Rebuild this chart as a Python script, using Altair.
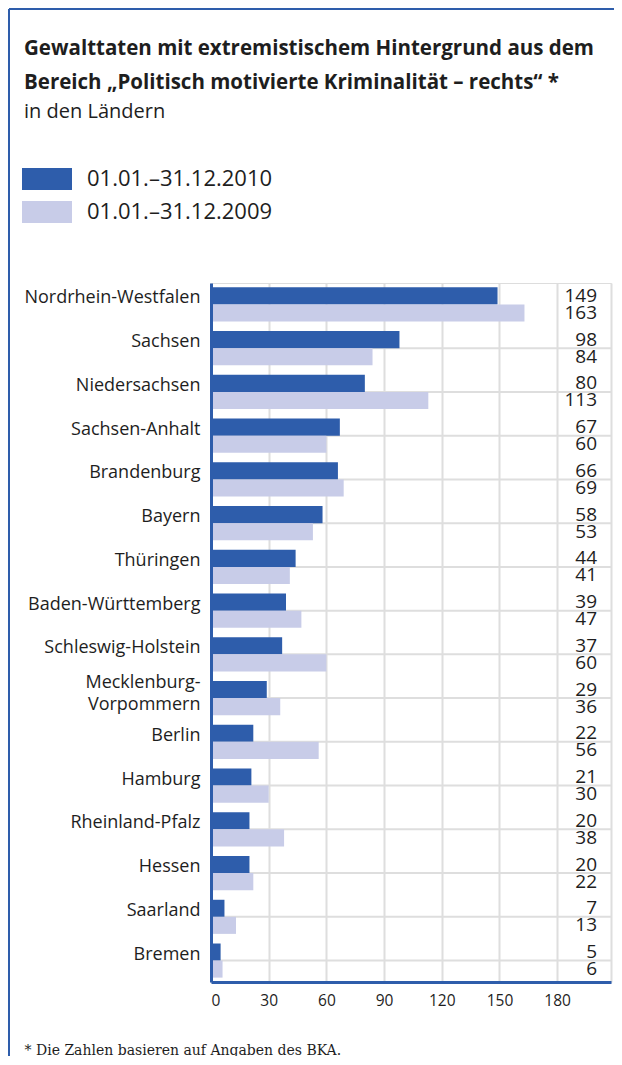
import altair as alt
import pandas as pd

lands = ["Nordrhein-Westfalen", "Sachsen", "Niedersachsen", "Sachsen-Anhalt",
         "Brandenburg", "Bayern", "Thüringen", "Baden-Württemberg",
         "Schleswig-Holstein", "Mecklenburg-Vorpommern", "Berlin", "Hamburg",
         "Rheinland-Pfalz", "Hessen", "Saarland", "Bremen"]
v2010 = [149, 98, 80, 67, 66, 58, 44, 39, 37, 29, 22, 21, 20, 20, 7, 5]
v2009 = [163, 84, 113, 60, 69, 53, 41, 47, 60, 36, 56, 30, 38, 22, 13, 6]
years = ["01.01.–31.12.2010", "01.01.–31.12.2009"]
x_ticks = [0, 30, 60, 90, 120, 150, 180, 208]

title_lines = ["Gewalttaten mit extremistischem Hintergrund aus dem",
               "Bereich „Politisch motivierte Kriminalität – rechts“ *"]
subtitle = "in den Ländern"
footnote = "*  Die Zahlen basieren auf Angaben des BKA."

DARK = "#2e5dab"
LIGHT = "#c8cce8"
GRID = "#dedede"
TXT = "#1e1e1e"
FONT = "Open Sans"

rows = []
for land, a, b in zip(lands, v2010, v2009):
    rows.append({"Land": land, "Jahr": years[0], "Wert": a})
    rows.append({"Land": land, "Jahr": years[1], "Wert": b})
df = pd.DataFrame(rows)
grid_df = pd.DataFrame({"Land": lands[1:]})

W, H = 400, 699
L, T, R, B = 203, 275, 3, 74

y_scale = alt.Scale(domain=lands, paddingInner=0.22, paddingOuter=0.1)
y_axis = alt.Axis(
    title=None, domainColor=DARK, domainWidth=3, ticks=False,
    labelFont=FONT, labelFontSize=18, labelColor=TXT, labelPadding=11,
    labelOffset={"condition": {"test": "datum.value == 'Mecklenburg-Vorpommern'",
                               "value": -15}, "value": -6},
    labelLineHeight=22, zindex=1, labelLimit=250,
    labelExpr="datum.label == 'Mecklenburg-Vorpommern' ? ['Mecklenburg-', 'Vorpommern'] : datum.label",
)
x_scale = alt.Scale(domain=[0, 208], nice=False, zero=True)
x_axis = alt.Axis(
    values=x_ticks, title=footnote, domainColor=DARK, domainWidth=3,
    ticks=False, grid=True, gridColor=GRID, gridWidth=2,
    labelFont=FONT, labelFontSize=15.5, labelColor=TXT, labelPadding=11,
    labelExpr="datum.value > 200 ? '' : datum.label",
    titleFont="DejaVu Serif", titleFontSize=14, titleFontWeight="normal",
    titleColor=TXT, titleAnchor="start", titleAlign="left",
    titleX=-187, titleY=72, titleBaseline="alphabetic",
)

Y = alt.Y("Land:N", scale=y_scale, axis=y_axis, sort=lands)
X = alt.X("Wert:Q", scale=x_scale, axis=x_axis)
YO = alt.YOffset("Jahr:N", sort=years, scale=alt.Scale(paddingInner=0, paddingOuter=0))

hgrid = alt.Chart(grid_df).mark_rule(color=GRID, strokeWidth=2).encode(
    y=alt.Y("Land:N", scale=y_scale, axis=y_axis, sort=lands, bandPosition=0.5),
    x=alt.datum(0, scale=x_scale),
    x2=alt.datum(208),
)

bars = alt.Chart(df).mark_bar(opacity=1).encode(
    y=Y, yOffset=YO, x=X,
    color=alt.Color("Jahr:N", sort=years,
                    scale=alt.Scale(domain=years, range=[DARK, LIGHT]),
                    legend=alt.Legend(
                        orient="none", legendX=-175, legendY=-115, title=None,
                        symbolType="M-2.273,-1H2.273V1H-2.273Z", symbolSize=484,
                        symbolStrokeWidth=0, symbolOpacity=1, labelLimit=400,
                        labelFont=FONT, labelFontSize=22, labelColor=TXT,
                        labelOffset=29, rowPadding=11)),
)

labels = alt.Chart(df).mark_text(align="right", baseline="middle", font=FONT,
                                 fontSize=19, color=TXT).encode(
    y=Y, yOffset=YO, x=alt.value(386), text="Wert:Q",
)

frame_left = alt.Chart(grid_df).mark_rule(color=DARK, strokeWidth=2).encode(
    x=alt.value(-L + 1), y=alt.value(-T + 1), y2=alt.value(H + B))
frame_top = alt.Chart(grid_df).mark_rule(color=DARK, strokeWidth=2).encode(
    x=alt.value(-L + 1), x2=alt.value(W + R), y=alt.value(-T + 1))

chart = alt.layer(hgrid, bars, labels, frame_left, frame_top).properties(
    width=W, height=H,
    autosize=alt.AutoSizeParams(type="none"),
    padding={"left": L, "top": T, "right": R, "bottom": B},
    title=alt.TitleParams(
        text=title_lines, subtitle=subtitle, anchor="start", frame="group",
        dx=-187, font=FONT, fontSize=20.5, fontWeight="bold", color=TXT,
        lineHeight=33.5, subtitleFont=FONT, subtitleFontSize=20,
        subtitleColor=TXT, subtitleFontWeight="normal", subtitlePadding=9,
        offset=-114,
    ),
).configure_view(stroke=None).configure(background="white")

chart.save("out.html", embed_options={"renderer": "svg", "actions": False})
